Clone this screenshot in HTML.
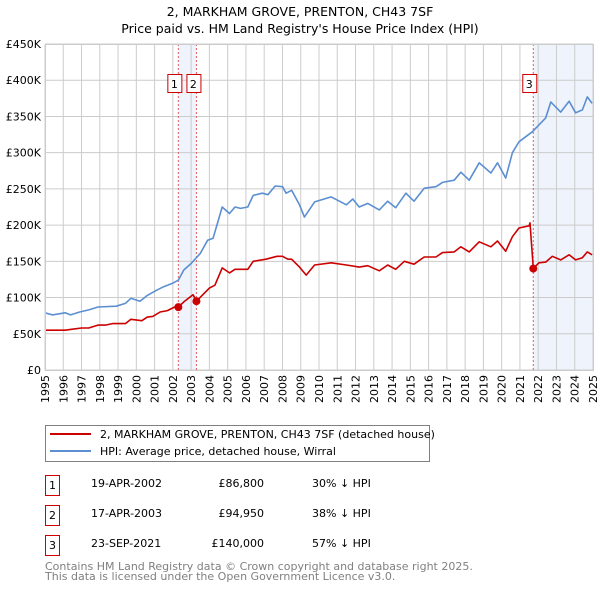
<!DOCTYPE html>
<html><head><meta charset="utf-8"><style>
body{margin:0;background:#fff;}
svg{display:block;font-family:"DejaVu Sans","Liberation Sans",sans-serif;}
</style></head><body>
<svg id="chart" width="600" height="590" viewBox="0 0 600 590">
<text x="300" y="16" text-anchor="middle" font-size="12.5">2, MARKHAM GROVE, PRENTON, CH43 7SF</text>
<text x="300" y="33" text-anchor="middle" font-size="12.5">Price paid vs. HM Land Registry's House Price Index (HPI)</text>
<g id="plot"></g>
<g>
<rect x="45.5" y="425.5" width="384" height="36" fill="#fff" stroke="#808080"/>
<line x1="50" y1="434" x2="91" y2="434" stroke="#cc0000" stroke-width="2"/>
<text x="100" y="438" font-size="11">2, MARKHAM GROVE, PRENTON, CH43 7SF (detached house)</text>
<line x1="50" y1="451" x2="91" y2="451" stroke="#5b8fd1" stroke-width="2"/>
<text x="100" y="455" font-size="11">HPI: Average price, detached house, Wirral</text>
</g>
<g font-size="11">
<rect x="45.5" y="475.5" width="14" height="20" fill="#fff" stroke="#cc0000"/>
<text x="52.5" y="489" text-anchor="middle">1</text>
<text x="91" y="487">19-APR-2002</text>
<text x="264" y="487" text-anchor="end">£86,800</text>
<text x="312" y="487">30% ↓ HPI</text>
<rect x="45.5" y="505.5" width="14" height="20" fill="#fff" stroke="#cc0000"/>
<text x="52.5" y="519" text-anchor="middle">2</text>
<text x="91" y="517">17-APR-2003</text>
<text x="264" y="517" text-anchor="end">£94,950</text>
<text x="312" y="517">38% ↓ HPI</text>
<rect x="45.5" y="535.5" width="14" height="20" fill="#fff" stroke="#cc0000"/>
<text x="52.5" y="549" text-anchor="middle">3</text>
<text x="91" y="547">23-SEP-2021</text>
<text x="264" y="547" text-anchor="end">£140,000</text>
<text x="312" y="547">57% ↓ HPI</text>
</g>
<text x="45" y="570" font-size="11" fill="#808080">Contains HM Land Registry data © Crown copyright and database right 2025.</text>
<text x="45" y="580" font-size="11" fill="#808080">This data is licensed under the Open Government Licence v3.0.</text>
</svg>
<script>
const yTicks=[0,50,100,150,200,250,300,350,400,450];
const yTickLabels=["£0","£50K","£100K","£150K","£200K","£250K","£300K","£350K","£400K","£450K"];
const years=[1995,1996,1997,1998,1999,2000,2001,2002,2003,2004,2005,2006,2007,2008,2009,2010,2011,2012,2013,2014,2015,2016,2017,2018,2019,2020,2021,2022,2023,2024,2025];
const hpiT=[1995.0,1995.4,1996.1,1996.4,1996.9,1997.4,1997.9,1998.9,1999.4,1999.7,2000.2,2000.6,2001.1,2001.5,2002.0,2002.3,2002.6,2003.0,2003.5,2003.9,2004.2,2004.7,2005.1,2005.4,2005.7,2006.1,2006.4,2006.9,2007.2,2007.6,2008.0,2008.2,2008.5,2008.93,2009.2,2009.76,2010.67,2011.5,2011.85,2012.2,2012.67,2013.3,2013.76,2014.2,2014.76,2015.2,2015.76,2016.4,2016.76,2017.4,2017.77,2018.22,2018.77,2019.41,2019.77,2020.22,2020.59,2020.95,2021.68,2022.41,2022.69,2023.23,2023.69,2024.05,2024.42,2024.69,2024.95];
const hpiV=[79,76,79,76,80,83,87,88,92,99,95,103,110,115,120,124,138,147,161,179,182,225,216,225,223,225,241,244,242,254,253,244,248,228,211,232,239,228,236,225,230,221,233,224,244,233,251,253,259,262,273,262,286,272,286,265,300,315,329,348,370,356,371,355,359,377,368];
const propT=[1995.0,1996.1,1996.4,1997.0,1997.4,1997.9,1998.3,1998.7,1999.4,1999.7,2000.3,2000.6,2000.9,2001.3,2001.7,2002.1,2002.3,2002.6,2003.1,2003.3,2003.6,2004.0,2004.3,2004.7,2005.1,2005.4,2006.1,2006.4,2007.1,2007.7,2008.0,2008.3,2008.5,2008.93,2009.3,2009.76,2010.67,2011.5,2012.2,2012.67,2013.3,2013.76,2014.2,2014.67,2015.2,2015.76,2016.4,2016.76,2017.4,2017.77,2018.22,2018.77,2019.41,2019.77,2020.22,2020.59,2020.95,2021.5,2021.55,2021.73,2022.04,2022.41,2022.77,2023.23,2023.69,2024.05,2024.42,2024.69,2024.95];
const propV=[55,55,56,58,58,62,62,64,64,70,68,73,74,80,82,87,86.8,94,104,94.95,103,113,117,141,134,139,139,150,153,157,157,153,153,142,131,145,148,145,142,144,137,145,139,150,146,156,156,162,163,170,163,177,170,178,164,184,196,199,203,140,148,149,157,152,159,152,155,163,159];
const saleT=[2002.3,2003.29,2021.73];
const saleV=[86.8,94.95,140];
const saleLabels=["1","2","3"];

const NS="http://www.w3.org/2000/svg";
const L=45,R=593,T=44,B=370;
const x=t=>L+(t-1995)*(R-L)/30;
const y=v=>B-v*(B-T)/450;
const g=document.getElementById('plot');
function mk(tag,attrs,parent){const e=document.createElementNS(NS,tag);for(const k in attrs)e.setAttribute(k,attrs[k]);(parent||g).appendChild(e);return e;}

let s1=mk('rect',{x:x(saleT[0]),y:T,width:x(saleT[1])-x(saleT[0]),height:B-T,fill:'#eef3fc'});


let s2=mk('rect',{x:x(saleT[2]),y:T,width:R-x(saleT[2]),height:B-T,fill:'#eef3fc'});



yTicks.forEach((v,i)=>{
  let ln=mk('line',{x1:L,x2:R,y1:y(v),y2:y(v),stroke:'#cccccc','stroke-width':1});
  
  
  let tx=mk('text',{x:L-4,y:y(v)+4,'text-anchor':'end','font-size':11});
  tx.textContent=yTickLabels[i];
  
  
});
years.forEach(yr=>{
  let ln=mk('line',{x1:x(yr),x2:x(yr),y1:T,y2:B,stroke:'#cccccc','stroke-width':1});
  
  
  let tx=mk('text',{x:0,y:0,'text-anchor':'end','font-size':11,transform:`translate(${x(yr)+4},${B+5}) rotate(-90)`});
  tx.textContent=yr;
  
  
});

saleT.forEach((t,i)=>{
  let ln=mk('line',{x1:x(t),x2:x(t),y1:T,y2:B,stroke:'#e06060','stroke-width':1,'stroke-dasharray':'2,2'});
  
  
});

function path(ts,vs,color,name){
  let d=ts.map((t,i)=>(i?'L':'M')+x(t).toFixed(1)+','+y(vs[i]).toFixed(1)).join('');
  let p=mk('path',{d:d,fill:'none',stroke:color,'stroke-width':1.6,'stroke-linejoin':'round'});
  
  
}
path(hpiT,hpiV,'#5b8fd1','hpi-line');
path(propT,propV,'#cc0000','property-line');

const badgeOffset=[-4,-3,-4];
saleT.forEach((t,i)=>{
  let c=mk('circle',{cx:x(t),cy:y(saleV[i]),r:4,fill:'#cc0000'});
  
  
  const bx=x(t)+badgeOffset[i];
  let r=mk('rect',{x:bx+0.5-7,y:74.5,width:14,height:18,fill:'#fff',stroke:'#cc0000'});
  
  
  let tx=mk('text',{x:bx,y:88,'text-anchor':'middle','font-size':11});
  tx.textContent=saleLabels[i];
  
  
});
let fr=mk('rect',{x:L+0.5,y:T+0.5,width:R-L,height:B-T,fill:'none',stroke:'#cccccc'});


</script>
</body></html>
